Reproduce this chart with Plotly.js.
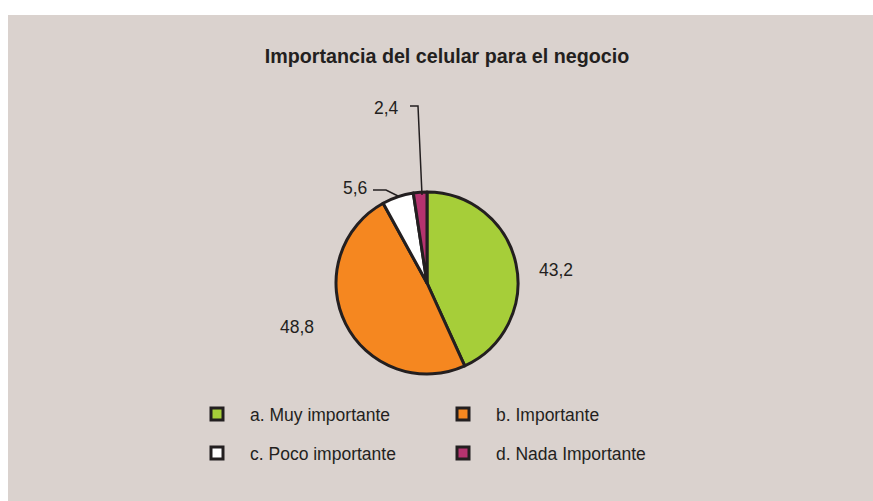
<!DOCTYPE html>
<html>
<head>
<meta charset="utf-8">
<script src="https://cdn.plot.ly/plotly-3.0.1.min.js"></script>
<style>html,body{margin:0;padding:0;background:#fff;}#chart{width:873px;height:501px;}</style>
</head>
<body>
<div id="chart"></div>
<script>
const categories = ['a. Muy importante', 'b. Importante', 'c. Poco importante', 'd. Nada Importante'];
const values = [43.2, 48.8, 5.6, 2.4];
const colors = ['#a6ce39', '#f58720', '#ffffff', '#b5336f'];

const W = 873, H = 501;
const MR = 200;               // right margin keeps the legend at two columns
const PW = W - MR;            // plot-area width
const px = x => x / PW;
const py = y => 1 - y / H;
const FONT = '"Liberation Sans", Arial, Helvetica, sans-serif';
const INK = '#231f20';

// label anchor positions (pixels)
const labelPos = [[556, 270], [297, 327], [355, 188], [387, 108]];
const fmt = v => v.toFixed(1).replace('.', ',');
const legendLabels = categories.map(c => '<span style="font-size:17.5px;baseline-shift:4px">' + c + '</span>');

const trace = {
  type: 'pie',
  labels: legendLabels,
  values: values,
  sort: false,
  direction: 'clockwise',
  rotation: 0,
  textinfo: 'none',
  hoverinfo: 'label+value',
  marker: {colors: colors, line: {color: INK, width: 3}},
  domain: {x: [px(336), px(518)], y: [py(374), py(192)]},
  showlegend: true
};

const annotations = values.map((v, i) => ({
  text: fmt(v), x: px(labelPos[i][0]), y: py(labelPos[i][1]),
  xref: 'paper', yref: 'paper', showarrow: false,
  xanchor: 'center', yanchor: 'middle',
  font: {family: FONT, size: 17.5, color: INK}
}));

function path(pts) {
  return pts.map((p, i) => (i ? 'L' : 'M') + px(p[0]) + ',' + py(p[1])).join(' ');
}

const layout = {
  width: W, height: H,
  margin: {l: 0, r: MR, t: 0, b: 0, autoexpand: false},
  paper_bgcolor: '#dad2ce',
  title: {
    text: 'Importancia del celular para el negocio',
    x: 447 / W, xanchor: 'center', y: py(56), yanchor: 'middle',
    font: {family: FONT, size: 19.7, color: INK, weight: 'bold'}
  },
  shapes: [
    {type: 'rect', xref: 'paper', yref: 'paper', x0: 0, x1: px(W), y0: py(15), y1: 1,
     fillcolor: '#ffffff', line: {width: 0}, layer: 'below'},
    {type: 'rect', xref: 'paper', yref: 'paper', x0: 0, x1: px(8), y0: 0, y1: 1,
     fillcolor: '#ffffff', line: {width: 0}, layer: 'below'},
    {type: 'path', xref: 'paper', yref: 'paper', path: path([[410, 106], [418, 106], [422, 195]]),
     line: {color: INK, width: 1.5}},
    {type: 'path', xref: 'paper', yref: 'paper', path: path([[373, 190], [386, 190], [398, 196]]),
     line: {color: INK, width: 1.5}}
  ],
  annotations: annotations,
  legend: {
    orientation: 'h',
    x: px(184), xanchor: 'left',
    y: py(389.5), yanchor: 'top',
    entrywidth: 175, entrywidthmode: 'pixels',
    itemwidth: 56,
    bgcolor: 'rgba(0,0,0,0)',
    font: {family: FONT, size: 27.7, color: INK},
    traceorder: 'normal'
  }
};

Plotly.newPlot('chart', [trace], layout, {displayModeBar: false, staticPlot: true});
</script>
</body>
</html>
